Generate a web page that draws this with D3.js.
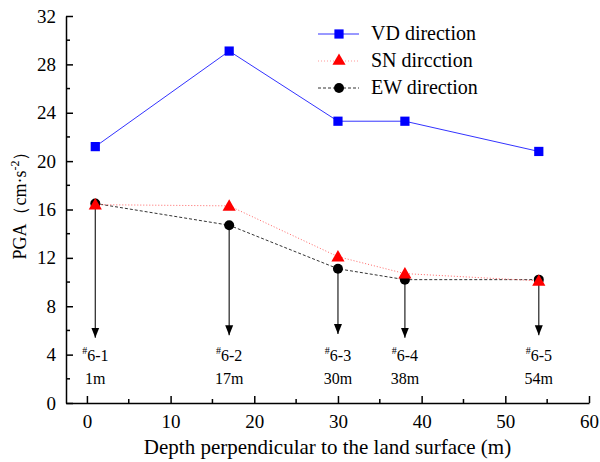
<!DOCTYPE html>
<html>
<head>
<meta charset="utf-8">
<script src="https://cdn.jsdelivr.net/npm/d3@7"></script>
<style>
  body { margin: 0; background: #fff; }
  svg text { font-family: 'Liberation Serif', 'DejaVu Serif', 'Times New Roman', serif; fill: #000; }
</style>
</head>
<body>
<div id="container"></div>
<script>
/**
 * DATA
 * */
const depths = [1, 17, 30, 38, 54]
const vdValues = [21.2, 29.1, 23.3, 23.3, 20.8]
const snValues = [16.4, 16.3, 12.1, 10.7, 10.1]
const ewValues = [16.5, 14.7, 11.1, 10.2, 10.2]
const pointNames = ['6-1', '6-2', '6-3', '6-4', '6-5']
const arrowTips = [5.4, 5.6, 5.7, 5.4, 5.6]
const xTicks = [0, 10, 20, 30, 40, 50, 60]
const yTicks = [0, 4, 8, 12, 16, 20, 24, 28, 32]
const legendNames = ['VD direction', 'SN dircction', 'EW direction']

/**
 * CONSTANTS
 * */
const width = 600,
  height = 462,
  margin = { top: 16, bottom: 59, left: 66, right: 11 },
  serif = "'Liberation Serif', 'DejaVu Serif', serif"

const svg = d3.select('#container')
  .append('svg')
  .attr('width', width)
  .attr('height', height)

const x = d3.scaleLinear().domain([-2.5, 60]).range([margin.left, width - margin.right])
const y = d3.scaleLinear().domain([0, 32]).range([height - margin.bottom, margin.top])

svg.append('defs').append('marker')
  .attr('id', 'arrow')
  .attr('viewBox', '0 0 10 10')
  .attr('refX', 10).attr('refY', 5)
  .attr('markerWidth', 10).attr('markerHeight', 10)
  .attr('markerUnits', 'userSpaceOnUse')
  .attr('orient', 'auto')
  .append('path')
  .attr('d', 'M0,1 L10,5 L0,9 Z')
  .attr('fill', '#000')

// axes
const xAxis = d3.axisBottom(x).tickValues(xTicks).tickSizeInner(-7).tickSizeOuter(0).tickPadding(12)
const gx = svg.append('g').attr('transform', `translate(0,${y(0)})`).call(xAxis)
gx.attr('font-family', serif)
gx.selectAll('text').attr('font-size', 19)
gx.select('.domain').attr('stroke-width', 1.5)
gx.selectAll('.tick line').attr('stroke-width', 1.5)
gx.selectAll('.minor')
  .data(d3.range(5, 60, 10))
  .join('line')
  .attr('class', 'minor')
  .attr('x1', d => x(d)).attr('x2', d => x(d))
  .attr('y1', 0).attr('y2', -4)
  .attr('stroke', '#000').attr('stroke-width', 1.5)

const yAxis = d3.axisLeft(y).tickValues(yTicks).tickSizeInner(-7).tickSizeOuter(0).tickPadding(10)
const gy = svg.append('g').attr('transform', `translate(${x(-2.5)},0)`).call(yAxis)
gy.attr('font-family', serif)
gy.selectAll('text').attr('font-size', 19)
gy.select('.domain').attr('stroke-width', 1.5)
gy.selectAll('.tick line').attr('stroke-width', 1.5)
gy.selectAll('.minor')
  .data(d3.range(2, 32, 4))
  .join('line')
  .attr('class', 'minor')
  .attr('y1', d => y(d)).attr('y2', d => y(d))
  .attr('x1', 0).attr('x2', 4)
  .attr('stroke', '#000').attr('stroke-width', 1.5)

// axis titles
svg.append('text')
  .attr('x', (x(-2.5) + x(60)) / 2)
  .attr('y', 454)
  .attr('text-anchor', 'middle')
  .attr('font-size', 21)
  .text('Depth perpendicular to the land surface (m)')

const yl = svg.append('text')
  .attr('transform', `translate(26,${y(16.7)}) rotate(-90)`)
  .attr('text-anchor', 'middle')
  .attr('font-size', 18)
yl.append('tspan').text('PGA（cm·s')
yl.append('tspan').attr('dy', -7).attr('font-size', 12).text('-2')
yl.append('tspan').attr('dy', 7).text('）')

// arrows
svg.selectAll('.arrow')
  .data(depths)
  .join('line')
  .attr('class', 'arrow')
  .attr('x1', d => x(d)).attr('x2', d => x(d))
  .attr('y1', (d, i) => y(ewValues[i]))
  .attr('y2', (d, i) => y(arrowTips[i]))
  .attr('stroke', '#222').attr('stroke-width', 1.2)
  .attr('marker-end', 'url(#arrow)')

// point labels
const lab = svg.selectAll('.lab')
  .data(depths)
  .join('g')
  .attr('class', 'lab')
  .attr('transform', d => `translate(${x(d)},0)`)
lab.append('text')
  .attr('y', 361)
  .attr('text-anchor', 'middle')
  .attr('font-size', 16)
  .each(function (d, i) {
    const t = d3.select(this)
    t.append('tspan').attr('font-size', 10).attr('dy', -7).text('#')
    t.append('tspan').attr('dy', 7).text(pointNames[i])
  })
lab.append('text')
  .attr('y', 384)
  .attr('text-anchor', 'middle')
  .attr('font-size', 16)
  .text(d => d + 'm')

// series
const line = d3.line().x(d => x(d[0])).y(d => y(d[1]))
const series = [
  { vals: vdValues, stroke: '#3333ff', dash: null, sw: 1 },
  { vals: ewValues, stroke: '#333', dash: '3,2', sw: 1 },
  { vals: snValues, stroke: '#ff6666', dash: '1,2', sw: 1 }
]
series.forEach(s => {
  svg.append('path')
    .datum(depths.map((d, i) => [d, s.vals[i]]))
    .attr('d', line)
    .attr('fill', 'none')
    .attr('stroke', s.stroke)
    .attr('stroke-width', s.sw)
    .attr('stroke-dasharray', s.dash)
})

const sq = d3.symbol().type(d3.symbolSquare).size(85)
const tri = d3.symbol().type(d3.symbolTriangle).size(75)

svg.selectAll('.vd').data(depths).join('path')
  .attr('class', 'vd')
  .attr('transform', (d, i) => `translate(${x(d)},${y(vdValues[i])})`)
  .attr('d', sq).attr('fill', '#0000ff')
svg.selectAll('.ew').data(depths).join('circle')
  .attr('class', 'ew')
  .attr('cx', d => x(d)).attr('cy', (d, i) => y(ewValues[i]))
  .attr('r', 5).attr('fill', '#000')
svg.selectAll('.sn').data(depths).join('path')
  .attr('class', 'sn')
  .attr('transform', (d, i) => `translate(${x(d)},${y(snValues[i]) + 1})`)
  .attr('d', tri).attr('fill', '#ff0000')

// legend
const legend = svg.append('g').attr('transform', 'translate(318,34)')
const legendItems = legend.selectAll('g')
  .data(legendNames)
  .join('g')
  .attr('transform', (d, i) => `translate(0,${i * 27})`)
legendItems.append('line')
  .attr('x1', 0).attr('x2', 41)
  .attr('stroke', (d, i) => ['#3333ff', '#ff9999', '#333'][i])
  .attr('stroke-dasharray', (d, i) => [null, '1,2', '3,2'][i])
legendItems.append('path')
  .attr('transform', 'translate(21,0)')
  .attr('d', (d, i) => i === 0 ? sq() : i === 1 ? tri() : null)
  .attr('fill', (d, i) => ['#0000ff', '#ff0000', 'none'][i])
legendItems.filter((d, i) => i === 2).append('circle')
  .attr('cx', 21).attr('r', 5).attr('fill', '#000')
legendItems.append('text')
  .attr('x', 53).attr('y', 6)
  .attr('font-size', 20)
  .text(d => d)
</script>
</body>
</html>
